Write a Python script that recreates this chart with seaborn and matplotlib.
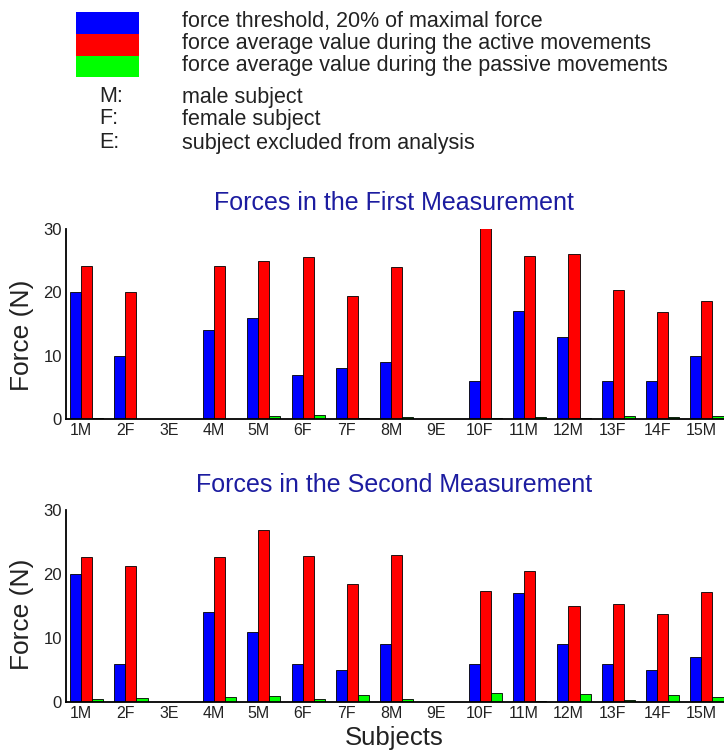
import numpy as np
import pandas as pd
import matplotlib
matplotlib.use("Agg")
import matplotlib.pyplot as plt
from matplotlib.patches import Rectangle
import seaborn as sns

subjects = ["1M", "2F", "3E", "4M", "5M", "6F", "7F", "8M", "9E",
            "10F", "11M", "12M", "13F", "14F", "15M"]

# First measurement
threshold_1 = [20, 10, 0, 14, 16, 7, 8, 9, 0, 6, 17, 13, 6, 6, 10]
active_1 = [24.2, 20.0, 0, 24.2, 25.0, 25.6, 19.4, 24.0, 0, 30.2, 25.7, 26.0, 20.3, 16.9, 18.7]
passive_1 = [0.2, 0.0, 0, 0.0, 0.4, 0.7, 0.2, 0.3, 0, 0.2, 0.3, 0.2, 0.4, 0.3, 0.4]

# Second measurement
threshold_2 = [20, 6, 0, 14, 11, 6, 5, 9, 0, 6, 17, 9, 6, 5, 7]
active_2 = [22.6, 21.2, 0, 22.6, 26.8, 22.8, 18.4, 22.9, 0, 17.3, 20.5, 15.0, 15.3, 13.7, 17.2]
passive_2 = [0.5, 0.7, 0, 0.8, 0.95, 0.4, 1.05, 0.5, 0, 1.45, 0.15, 1.25, 0.3, 1.15, 0.8]

series_names = ["pad", "threshold", "active", "passive"]
legend_labels = ["force threshold, 20% of maximal force",
                 "force average value during the active movements",
                 "force average value during the passive movements"]
key_letters = ["M:", "F:", "E:"]
key_texts = ["male subject", "female subject", "subject excluded from analysis"]
titles = ["Forces in the First Measurement", "Forces in the Second Measurement"]

palette = {"pad": (1, 1, 1, 0), "threshold": "#0000ff",
           "active": "#ff0000", "passive": "#00ff00"}


def make_frame(th, ac, pa):
    rows = []
    for s, t, a, p in zip(subjects, th, ac, pa):
        rows.append((s, "pad", 0.0))
        rows.append((s, "threshold", t))
        rows.append((s, "active", a))
        rows.append((s, "passive", p))
    return pd.DataFrame(rows, columns=["subject", "series", "force"])


sns.set_style("white")
plt.rcParams["font.family"] = ["Liberation Sans", "DejaVu Sans"]

W, H = 724, 753
fig = plt.figure(figsize=(W / 100, H / 100), dpi=100)

frames = [make_frame(threshold_1, active_1, passive_1),
          make_frame(threshold_2, active_2, passive_2)]
# axes boxes in pixels: (left, bottom_px(0 line), top_px(30 line))
boxes = [(66, 419, 229), (66, 702, 510)]
title_y = [203, 485]
ylabel_y = [0.44, 0.455]

for i, (df, (lx, by, ty)) in enumerate(zip(frames, boxes)):
    ax = fig.add_axes([lx / W, 1 - by / H, 1 - lx / W, (by - ty) / H])
    sns.barplot(data=df, x="subject", y="force", hue="series",
                order=subjects, hue_order=series_names, palette=palette,
                width=1.0, gap=0, dodge=True, errorbar=None,
                saturation=1, edgecolor="black", linewidth=0.6,
                legend=False, ax=ax)
    ax.set_xlim(-0.34, 14.51)
    ax.set_ylim(0, 30)
    ax.set_yticks([0, 10, 20, 30])
    for side in ["top", "right"]:
        ax.spines[side].set_visible(False)
    for side in ["left", "bottom"]:
        ax.spines[side].set_color("black")
        ax.spines[side].set_linewidth(1.3)
    ax.tick_params(axis="both", direction="in", length=5, width=1.2,
                   colors="black", labelcolor="#222222")
    ax.tick_params(axis="x", labelsize=11.5, pad=3)
    ax.tick_params(axis="y", labelsize=12, pad=3)
    ax.set_xlabel("")
    ax.set_ylabel("Force (N)", fontsize=19, color="#222222")
    ax.yaxis.set_label_coords(-0.048, ylabel_y[i])
    ax.set_facecolor("white")
    fig.text(394 / W, 1 - title_y[i] / H, titles[i], ha="center", va="center",
             fontsize=18, color="#1c1ca0")

fig.text(394 / W, 1 - 738 / H, "Subjects", ha="center", va="center",
         fontsize=18.5, color="#222222")

# Legend block
patch_y = [(12, 34), (34, 56), (56, 77)]
legend_colors = ["#0000ff", "#ff0000", "#00ff00"]
for (y0, y1), c in zip(patch_y, legend_colors):
    fig.patches.append(Rectangle((76 / W, 1 - y1 / H), 63 / W, (y1 - y0) / H,
                                 transform=fig.transFigure, facecolor=c,
                                 edgecolor="none"))
for yy, t in zip([21, 43, 66], legend_labels):
    fig.text(182 / W, 1 - yy / H, t, ha="left", va="center",
             fontsize=15.5, color="#222222")
for yy, l, t in zip([97, 119, 143], key_letters, key_texts):
    fig.text(99 / W, 1 - yy / H, l, ha="left", va="center",
             fontsize=15.5, color="#222222")
    fig.text(182 / W, 1 - yy / H, t, ha="left", va="center",
             fontsize=15.5, color="#222222")

fig.savefig("out.png", dpi=100, facecolor="white")
